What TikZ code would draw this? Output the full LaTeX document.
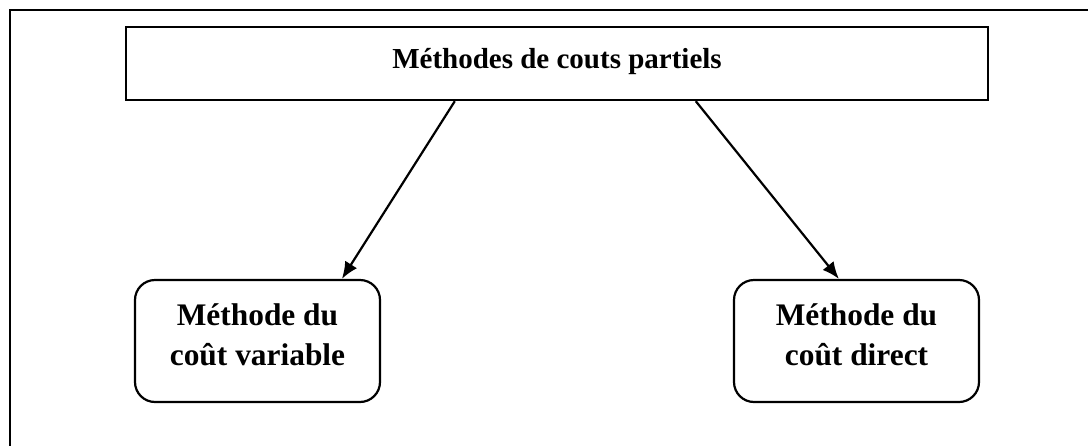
\documentclass[tikz,border=0pt]{standalone}
\usepackage{fontspec}
\setmainfont{Liberation Serif}
\usetikzlibrary{arrows.meta}
\newcommand{\lowstrut}{\rule[-12pt]{0pt}{12pt}}
\begin{document}
\begin{tikzpicture}[x=1pt,y=-1pt,
  topbox/.style={draw, line width=2.4pt, minimum width=862pt, minimum height=73pt, inner sep=0pt,
    font=\fontsize{29}{35}\selectfont\bfseries, text height=20pt, text depth=11pt},
  methbox/.style={draw, line width=2.2pt, rounded corners=20pt, minimum width=245pt, minimum height=122pt,
    inner sep=0pt, align=center, font=\fontsize{31.4}{40}\selectfont\bfseries},
  conn/.style={line width=2.2pt, -{Latex[length=17pt,width=14pt]}}]
\useasboundingbox (0,0) rectangle (1088,445);
\coordinate (fb) at (10,446);
\coordinate (fc) at (10,10);
\coordinate (fr) at (1089,10);
\draw[line width=2.6pt] (fb) -- (fc) -- (fr);
\node[topbox] (top) at (557,63.5) {Méthodes de couts partiels};
\node[methbox] (L) at (257.5,341) {Méthode du\\coût variable\lowstrut};
\node[methbox] (R) at (856.5,341) {Méthode du\\coût direct\lowstrut};
\draw[conn] ([xshift=330pt]top.south west) -- ([xshift=208pt]L.north west);
\draw[conn] ([xshift=571pt]top.south west) -- ([xshift=106pt]R.north west);
\end{tikzpicture}
\end{document}
